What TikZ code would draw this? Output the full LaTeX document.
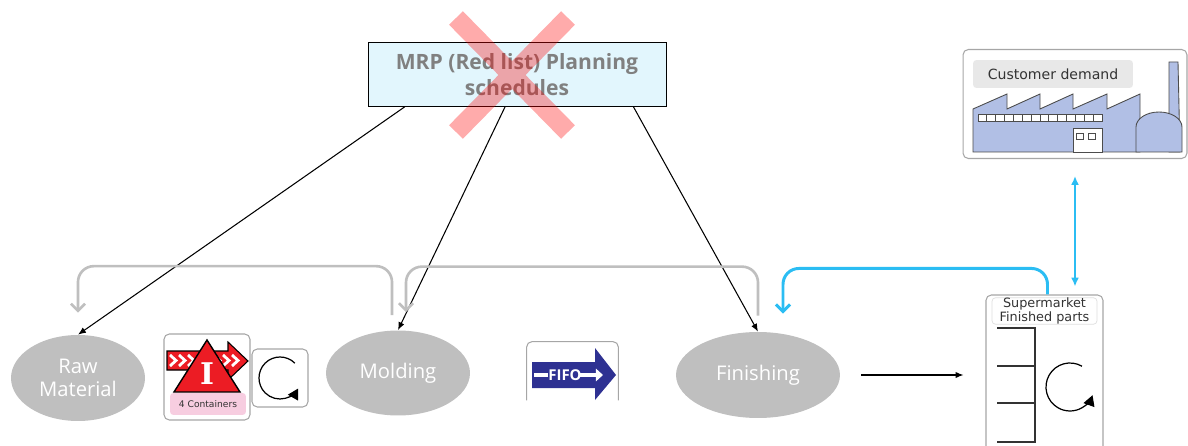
\documentclass[tikz,border=0pt]{standalone}
\usepackage{fontspec}
\setmainfont{Open Sans}
\newfontfamily\labelfont{DejaVu Sans}
\newfontfamily\slabfont{DejaVu Serif}
\usepackage{xcolor}
\usepackage{tikz}
\usetikzlibrary{shapes.geometric, arrows.meta, positioning, calc}

\definecolor{stepgray}{HTML}{BFBFBF}
\definecolor{planfill}{HTML}{E2F6FD}
\definecolor{plantext}{HTML}{808080}
\definecolor{crossred}{HTML}{FF0000}
\definecolor{kanbanblue}{HTML}{2BBDF3}
\definecolor{invred}{HTML}{EC1C24}
\definecolor{invpink}{HTML}{F7CDE0}
\definecolor{fifoblue}{HTML}{2E3192}
\definecolor{plantblue}{HTML}{B1BFE5}
\definecolor{iconline}{HTML}{A6A6A6}

\begin{document}
\begin{tikzpicture}[
    x=0.02cm,
    y=-0.02cm,
    process/.style={
        ellipse,
        inner sep=0pt,
        align=center,
        fill=stepgray,
        text=white,
        font=\fontsize{11.5}{13}\selectfont
    },
    planbox/.style={
        rectangle,
        minimum width=5.96cm,
        minimum height=1.28cm,
        align=center,
        draw=black,
        fill=planfill,
        text=plantext,
        font=\fontsize{12}{14.5}\selectfont\bfseries
    },
    iconbox/.style={
        rectangle,
        rounded corners=3pt,
        draw=iconline,
        fill=white,
        line width=0.6pt
    },
    tagbox/.style={
        rectangle,
        rounded corners=2pt,
        inner sep=0pt,
        align=center,
        text=black!80,
        font=\labelfont\fontsize{8}{9}\selectfont
    },
    arrow/.style={
        line width=0.6pt,
        -{Latex[length=4.5pt,width=3.6pt]}
    },
    pullback/.style={
        draw=stepgray,
        line width=1.5pt,
        rounded corners=9pt,
        -{Straight Barb[length=4pt,width=8pt]}
    },
    signal/.style={
        draw=kanbanblue,
        line width=1.7pt,
        rounded corners=9pt,
        -{Straight Barb[length=4pt,width=8pt]}
    },
    turn/.style={
        line width=0.7pt,
        -{Triangle[length=6pt,width=6.5pt]}
    }
]
\useasboundingbox (0,0) rectangle (1188,446);
% PLANNING
\node (mrp) [planbox] at (517,74.5) {MRP (Red list) Planning\\schedules};
\draw [crossred, opacity=0.33, line width=11pt] (456,18) -- (568,132) (568,18) -- (456,132);
% PROCESSES
\node (raw) [process, minimum width=2.68cm, minimum height=1.72cm] at (78,378) {Raw\\Material};
\node (molding) [process, minimum width=2.88cm, minimum height=1.7cm] at (398,373) {Molding};
\node (finishing) [process, minimum width=3.28cm, minimum height=1.72cm] at (758,375) {Finishing};
% INVENTORY BETWEEN RAW MATERIAL AND MOLDING
\node (inv) [iconbox, minimum width=1.72cm, minimum height=1.72cm] at (207,377) {};
\filldraw [fill=invred, line width=0.6pt] (167,351) -- (228,351) -- (228,342) -- (248,361) -- (228,380) -- (228,370) -- (167,370) -- cycle;
\foreach \cx in {170,179,188,214,223,232}
    \draw [white, line width=1.6pt] (\cx,355) -- ++(6,5.5) -- ++(-6,5.5);
\filldraw [fill=invred, line width=0.8pt] (207,340) -- (240,392) -- (174,392) -- cycle;
\node [text=white, inner sep=0pt, font=\slabfont\bfseries\fontsize{17}{17}\selectfont] at (207,374) {I};
\node (invtag) [tagbox, fill=invpink, minimum width=1.52cm, minimum height=0.44cm, font=\labelfont\fontsize{5.2}{6}\selectfont] at (208,404) {4 Containers};
\node (invturn) [iconbox, minimum width=1.12cm, minimum height=1.16cm] at (280,378) {};
\draw [turn] ([shift={(45:0.42cm)}]invturn.center) arc[start angle=45, end angle=330, radius=0.42cm];
% FIFO LANE
\node (fifo) [minimum width=1.82cm, minimum height=1.16cm] at (572.5,371) {};
\draw [iconline, line width=0.6pt, rounded corners=3pt] (fifo.south west) -- (fifo.north west) -- (fifo.north east) -- (fifo.south east);
\fill [fifoblue] (532,362) -- (595,362) -- (595,348) -- (616,375) -- (595,400) -- (595,388) -- (532,388) -- cycle;
\draw [white, line width=2.2pt] (534,375) -- (548,375);
\node [text=white, inner sep=0pt, font=\bfseries\fontsize{8.5}{9}\selectfont] at (565,375) {FIFO};
\draw [white, line width=2.2pt, -{Triangle[length=4pt,width=7pt]}] (580,375) -- (603,375);
% CUSTOMER
\node (plant) [iconbox, minimum width=4.48cm, minimum height=2.18cm] at (1075,104) {};
\node (demand) [tagbox, fill=gray!18, minimum width=3.2cm, minimum height=0.56cm] at (1053,74) {Customer demand};
\begin{scope}[fill=plantblue, draw=black!70, line width=0.5pt]
    \filldraw (973,152) -- (973,109) -- (1007,94) -- (1007,109) -- (1040,94) -- (1040,109) -- (1073,94) -- (1073,109) -- (1107,94) -- (1107,109) -- (1140,94) -- (1140,152) -- cycle;
    \filldraw (1169,152) -- (1169,62) -- (1178,62) -- (1180,152) -- cycle;
    \filldraw (1136,152) -- (1136,127) arc[start angle=180, end angle=0, x radius=0.46cm, y radius=0.3cm] -- (1182,152) -- cycle;
    \foreach \k in {0,...,13}
        \filldraw [fill=white] (978+\k*8.86,114) rectangle ++(8.86,7);
    \filldraw [fill=white] (1073,128) rectangle (1102,152);
    \draw (1076,133) rectangle ++(7,6) (1088,133) rectangle ++(7,6);
\end{scope}
% SUPERMARKET
\node (market) [iconbox, minimum width=2.34cm, minimum height=3.2cm] at (1044.5,375) {};
\node (markettag) [tagbox, draw=gray!25, fill=white, minimum width=2.1cm, minimum height=0.44cm, font=\labelfont\fontsize{7.3}{8}\selectfont] at (1044.5,311) {Supermarket\\Finished parts};
\draw [black!80, line width=1pt] (997,328) -- (1035,328) -- (1035,442) -- (997,442) (997,366) -- (1035,366) (997,403) -- (1035,403);
\draw [turn] ([shift={(60:0.48cm)}]1070,387) arc[start angle=60, end angle=340, radius=0.48cm];
% SCHEDULE ARROWS
\draw [arrow] ($(mrp.south west)!0.124!(mrp.south east)$) -- (raw.north);
\draw [arrow] ($(mrp.south west)!0.46!(mrp.south east)$) -- (molding.north);
\draw [arrow] ($(mrp.south west)!0.89!(mrp.south east)$) -- (finishing.north);
\draw [arrow, shorten <=0.42cm, shorten >=0.44cm] (finishing.east) -- (finishing.east -| market.west);
% PULL LOOPS
\draw [pullback] ($(molding.north)+(-6,-15)$) -- ++(0,-49) -| ($(raw.north)+(0,-22)$);
\draw [pullback] ($(finishing.north)+(0,-16)$) -- ++(0,-49) -| ($(molding.north)+(8,-18)$);
\draw [signal] ($(market.north)+(3,0)$) -- ++(0,-26) -| ($(finishing.north)+(25,-18)$);
\draw [kanbanblue, line width=1.1pt, {Latex[length=5pt,width=4.5pt]}-{Latex[length=5pt,width=4.5pt]}, shorten <=0.34cm, shorten >=0.16cm] (plant.south) -- (plant.south |- market.north);
\end{tikzpicture}
\end{document}
